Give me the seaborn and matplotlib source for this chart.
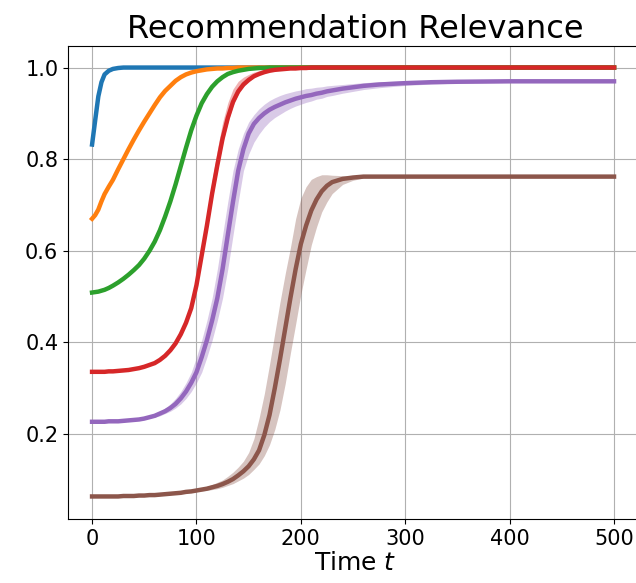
import numpy as np
import pandas as pd
import matplotlib
matplotlib.use("Agg")
import matplotlib.pyplot as plt
import seaborn as sns

# Time steps at which the relevance curves are sampled
t = [0, 3, 6, 9, 12, 16, 20, 25, 30, 35, 40, 45, 50, 55, 60, 65, 70, 75, 80, 85,
     90, 95, 100, 105, 110, 115, 120, 125, 130, 135, 140, 145, 150, 155, 160, 165,
     170, 175, 180, 185, 190, 195, 200, 205, 210, 215, 220, 225, 230, 240, 250,
     260, 275, 300, 325, 350, 400, 450, 500]

series_names = ["level 1", "level 2", "level 3", "level 4", "level 5", "level 6"]

rel_1 = [0.832, 0.885, 0.937, 0.968, 0.985, 0.993, 0.997, 0.999] + [1.0] * 51

rel_2 = [0.670, 0.678, 0.690, 0.708, 0.724, 0.740, 0.755, 0.778, 0.800, 0.822,
         0.843, 0.863, 0.882, 0.900, 0.918, 0.935, 0.949, 0.960, 0.971, 0.979,
         0.985, 0.989, 0.992, 0.994, 0.996, 0.997, 0.998, 0.998, 0.999, 0.999] + [1.0] * 29

rel_3 = [0.509, 0.510, 0.511, 0.513, 0.515, 0.519, 0.524, 0.531, 0.539, 0.548,
         0.558, 0.569, 0.583, 0.600, 0.620, 0.645, 0.675, 0.708, 0.745, 0.785,
         0.825, 0.863, 0.895, 0.922, 0.942, 0.958, 0.970, 0.979, 0.986, 0.990,
         0.993, 0.995, 0.997, 0.998, 0.999, 0.999] + [1.0] * 23

rel_4 = [0.336, 0.336, 0.336, 0.336, 0.336, 0.337, 0.337, 0.338, 0.339, 0.340,
         0.342, 0.344, 0.347, 0.351, 0.355, 0.362, 0.371, 0.383, 0.398, 0.418,
         0.443, 0.475, 0.525, 0.590, 0.655, 0.725, 0.787, 0.845, 0.890, 0.925,
         0.948, 0.963, 0.973, 0.981, 0.986, 0.990, 0.993, 0.995, 0.996, 0.997,
         0.998, 0.998, 0.999, 0.999] + [1.0] * 15
rel_4_up = [0.001] * 20 + [0.004, 0.007, 0.012, 0.018, 0.024, 0.030, 0.034, 0.035,
                           0.033, 0.028, 0.022, 0.016, 0.012, 0.009, 0.007, 0.005,
                           0.004, 0.003, 0.002] + [0.001] * 20
rel_4_down = [0.001] * 20 + [0.003, 0.005, 0.008, 0.010, 0.012, 0.013, 0.013, 0.012,
                             0.010, 0.008, 0.006, 0.005, 0.004, 0.003, 0.002, 0.002,
                             0.001, 0.001, 0.001] + [0.001] * 20

rel_5 = [0.227, 0.227, 0.227, 0.227, 0.227, 0.228, 0.228, 0.228, 0.229, 0.230,
         0.231, 0.232, 0.234, 0.237, 0.240, 0.245, 0.250, 0.257, 0.266, 0.278,
         0.293, 0.312, 0.335, 0.368, 0.405, 0.448, 0.497, 0.560, 0.634, 0.707,
         0.775, 0.822, 0.856, 0.877, 0.890, 0.900, 0.908, 0.914, 0.919, 0.924,
         0.928, 0.932, 0.935, 0.938, 0.940, 0.943, 0.945, 0.948, 0.950, 0.954,
         0.957, 0.960, 0.963, 0.966, 0.968, 0.969, 0.970, 0.970, 0.970]
rel_5_up = [0.002] * 14 + [0.005, 0.005, 0.007, 0.009, 0.012, 0.015, 0.019, 0.023,
                           0.033, 0.037, 0.043, 0.049, 0.063, 0.074, 0.073, 0.068,
                           0.047, 0.034, 0.025, 0.020, 0.020, 0.020, 0.020, 0.020,
                           0.020, 0.019, 0.018, 0.017, 0.016, 0.016, 0.015, 0.014,
                           0.013, 0.012, 0.011, 0.009, 0.008, 0.007, 0.006, 0.005,
                           0.004, 0.003, 0.003, 0.003, 0.003]
rel_5_down = [0.002] * 14 + [0.003, 0.005, 0.005, 0.007, 0.009, 0.012, 0.015, 0.019,
                             0.023, 0.033, 0.037, 0.043, 0.049, 0.063, 0.074, 0.073,
                             0.068, 0.047, 0.045, 0.040, 0.035, 0.030, 0.026, 0.023,
                             0.021, 0.019, 0.017, 0.016, 0.015, 0.014, 0.013, 0.012,
                             0.012, 0.011, 0.011, 0.010, 0.009, 0.008, 0.007, 0.005,
                             0.004, 0.003, 0.003, 0.003, 0.003]

rel_6 = [0.064, 0.064, 0.064, 0.064, 0.064, 0.064, 0.064, 0.064, 0.065, 0.065,
         0.065, 0.066, 0.066, 0.067, 0.067, 0.068, 0.069, 0.070, 0.071, 0.072,
         0.074, 0.075, 0.077, 0.079, 0.081, 0.084, 0.087, 0.091, 0.096, 0.102,
         0.110, 0.119, 0.130, 0.145, 0.165, 0.198, 0.242, 0.300, 0.363, 0.430,
         0.497, 0.560, 0.615, 0.655, 0.688, 0.712, 0.730, 0.742, 0.750, 0.757,
         0.760, 0.762, 0.762, 0.762, 0.762, 0.762, 0.762, 0.762, 0.762]
rel_6_up = [0.002] * 23 + [0.004, 0.005, 0.006, 0.008, 0.009, 0.012, 0.015, 0.018,
                           0.022, 0.030, 0.045, 0.070, 0.090, 0.110, 0.120, 0.125,
                           0.120, 0.110, 0.110, 0.100, 0.085, 0.068, 0.050, 0.036,
                           0.024, 0.015, 0.007, 0.003, 0.002] + [0.002] * 7
rel_6_down = [0.002] * 23 + [0.003, 0.004, 0.005, 0.006, 0.007, 0.008, 0.010, 0.012,
                             0.015, 0.018, 0.022, 0.030, 0.045, 0.065, 0.090, 0.110,
                             0.120, 0.120, 0.120, 0.110, 0.095, 0.075, 0.060, 0.045,
                             0.035, 0.025, 0.012, 0.006, 0.003] + [0.002] * 7

means = [rel_1, rel_2, rel_3, rel_4, rel_5, rel_6]
ups = [None, None, None, rel_4_up, rel_5_up, rel_6_up]
downs = [None, None, None, rel_4_down, rel_5_down, rel_6_down]

colors = sns.color_palette("tab10", 6)

df = pd.concat(
    [pd.DataFrame({"t": t, "relevance": m, "series": name})
     for name, m in zip(series_names, means)],
    ignore_index=True,
)

fig = plt.figure(figsize=(6.36, 5.83), dpi=100)
# The plotting area runs past the right edge of the canvas
ax = fig.add_axes([0.107, 0.110, 0.943, 0.811])
ax.grid(True, color="#b0b0b0", linewidth=0.8)
ax.set_axisbelow(True)
ax.spines["right"].set_visible(False)

tt = np.array(t, dtype=float)
for i, name in enumerate(series_names):
    if ups[i] is not None:
        m = np.array(means[i])
        hi = np.minimum(m + np.array(ups[i]), 1.0)
        lo = m - np.array(downs[i])
        ax.fill_between(tt, lo, hi, color=colors[i], alpha=0.35, linewidth=0)
    sns.lineplot(data=df[df["series"] == name], x="t", y="relevance",
                 color=colors[i], linewidth=3.2, ax=ax, legend=False)

ax.set_xlim(-23, 551.5)
ax.set_title("Recommendation Relevance", fontsize=23, x=0.479)
ax.set_xlabel("Time $t$", fontsize=18, labelpad=2, x=0.479)
ax.set_ylabel("")
ax.set_xticks([0, 100, 200, 300, 400, 500])
ax.set_yticks([0.2, 0.4, 0.6, 0.8, 1.0])
ax.tick_params(labelsize=15)

fig.savefig("out.png", dpi=100)
